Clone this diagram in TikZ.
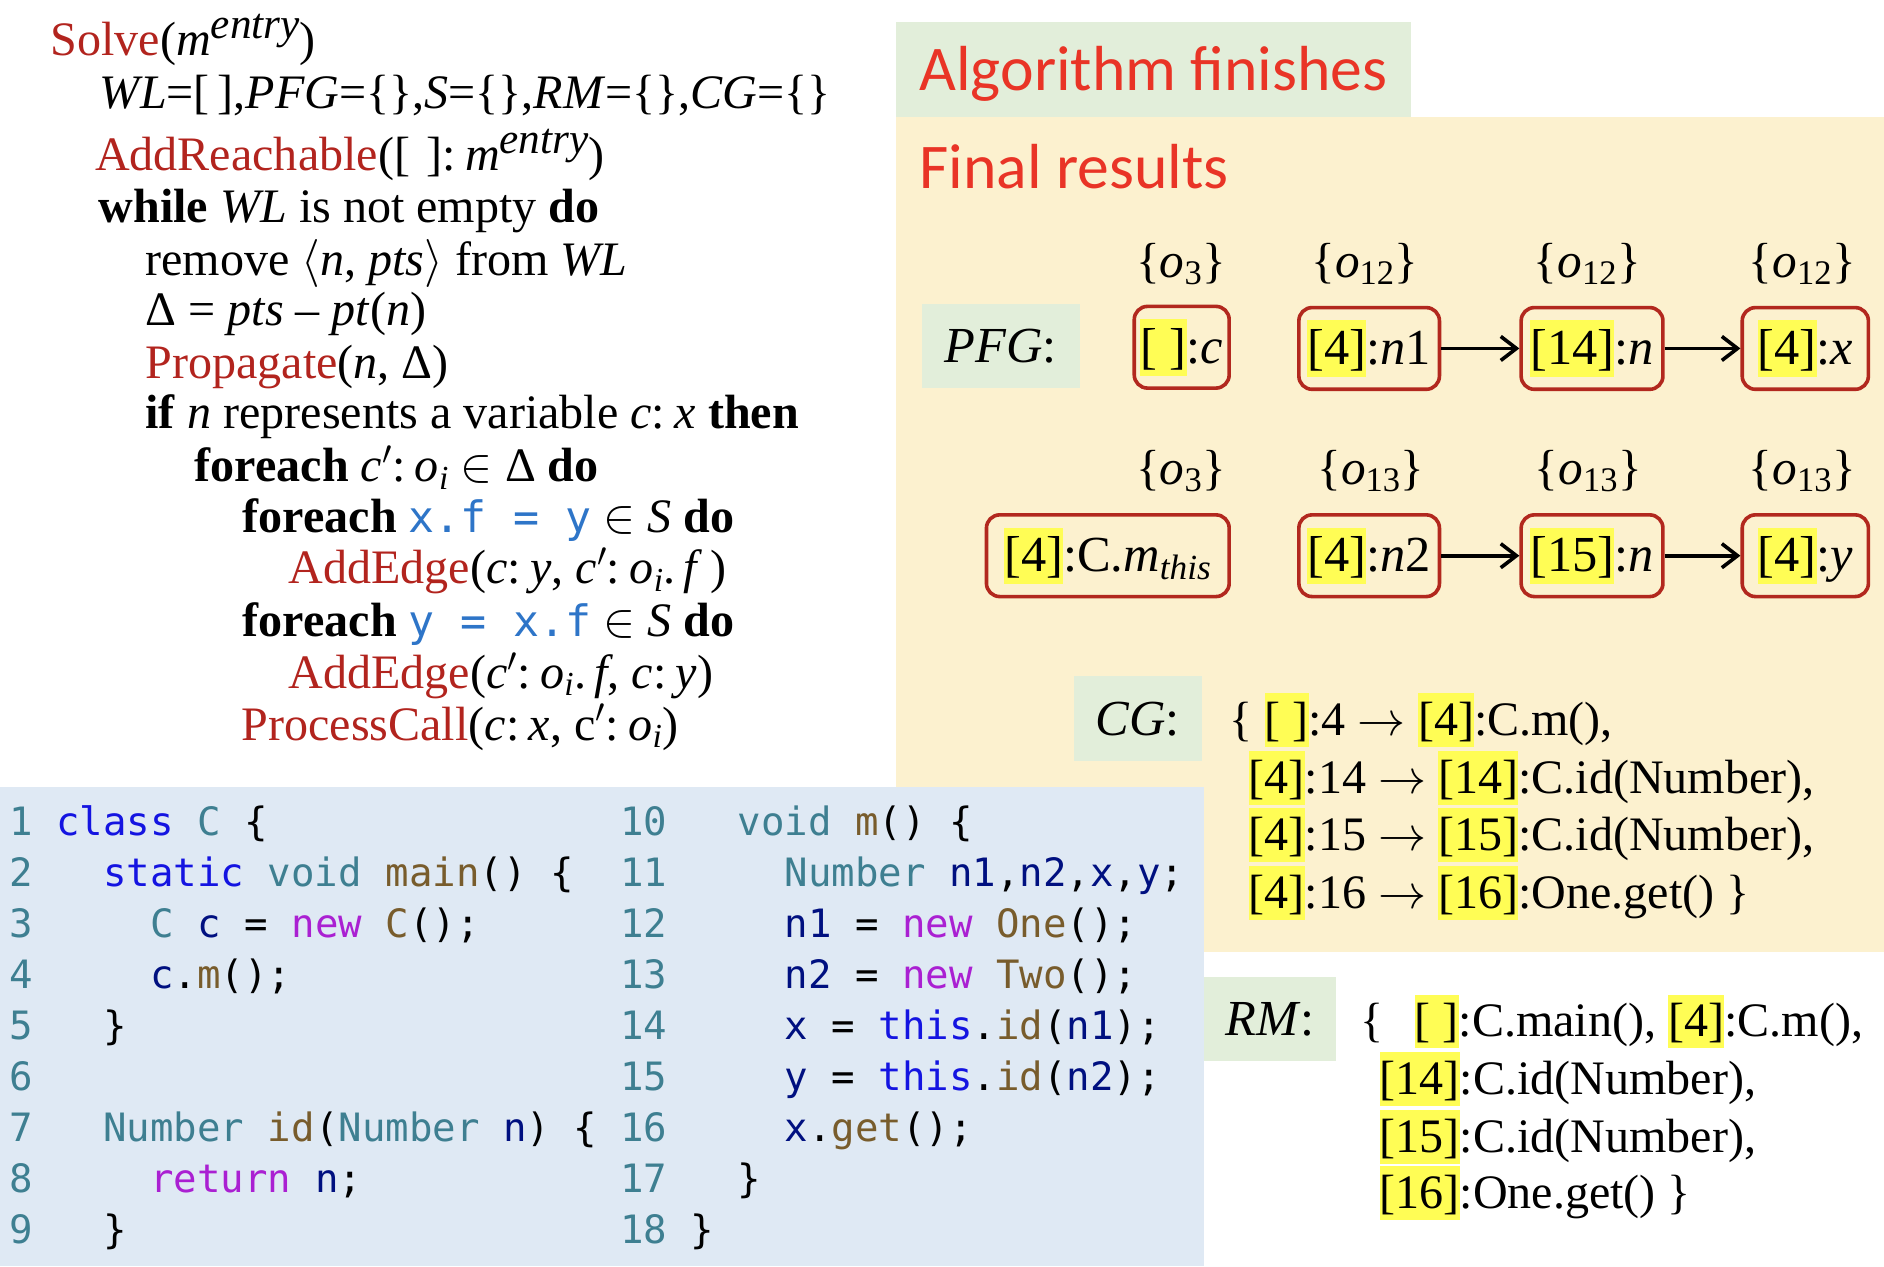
\RequirePackage{fix-cm}
\documentclass[tikz,border=0pt]{standalone}
\usepackage{fontspec}
\setmainfont{Liberation Serif}
\newfontfamily\titlefont{Carlito}
\newfontfamily\codefont{DejaVu Sans Mono}
\usetikzlibrary{arrows.meta}

% palette
\definecolor{beige}{RGB}{252,241,207}
\definecolor{lgreen}{RGB}{226,238,218}
\definecolor{lblue}{RGB}{223,233,244}
\definecolor{titlered}{RGB}{233,52,38}
\definecolor{algred}{RGB}{178,36,30}
\definecolor{codeblue}{RGB}{46,117,200}
\definecolor{boxred}{RGB}{178,40,30}
\definecolor{hly}{RGB}{255,253,85}
\definecolor{kwblue}{RGB}{20,20,225}
\definecolor{tyteal}{RGB}{62,127,145}
\definecolor{fnbrown}{RGB}{120,92,44}
\definecolor{nwpurple}{RGB}{170,32,210}
\definecolor{varnavy}{RGB}{0,16,128}

% highlighted context label
\newcommand\hlb[1]{{\setlength{\fboxsep}{0pt}\colorbox{hly}{\rule[-0.24em]{0pt}{1.12em}#1}}}
% superscript of the entry method
\newcommand\supit[1]{\raisebox{0.36em}{\fontsize{36}{36}\selectfont\textit{#1}}}
% colon between context and variable
\newcommand\cln{:\hspace{0.2em}}
% algorithm keywords and inline code
\newcommand\fnc[1]{\textcolor{algred}{#1}}
\newcommand\icode[1]{{\codefont\fontsize{36}{40}\selectfont\color{codeblue}#1}}
% syntax colours of the listing
\newcommand\cKw[1]{\textcolor{kwblue}{#1}}
\newcommand\cTy[1]{\textcolor{tyteal}{#1}}
\newcommand\cFn[1]{\textcolor{fnbrown}{#1}}
\newcommand\cNw[1]{\textcolor{nwpurple}{#1}}
\newcommand\cVr[1]{\textcolor{varnavy}{#1}}

\tikzset{
  alg/.style={anchor=base west, inner sep=0pt, font=\fontsize{40}{43}\selectfont},
  res/.style={anchor=base west, inner sep=0pt, font=\fontsize{40}{48}\selectfont},
  pfgbox/.style={draw=boxred, line width=3pt, rounded corners=11pt, inner sep=0pt,
    minimum height=68pt, text height=37pt, text depth=10pt,
    font=\fontsize{42}{48}\selectfont},
  ptset/.style={anchor=base, inner sep=0pt, font=\fontsize{41}{48}\selectfont},
  lbl/.style={fill=lgreen, inner sep=0pt, text height=28pt, text depth=0pt,
    font=\fontsize{42}{48}\selectfont},
  codeln/.style={anchor=base west, inner sep=0pt, font=\codefont\fontsize{32.5}{42}\selectfont},
  title/.style={anchor=base west, inner sep=0pt, text=titlered,
    font=\titlefont\fontsize{53}{60}\selectfont},
  flow/.style={line width=3pt, -{Straight Barb[length=13pt,width=20pt]}},
}

\begin{document}
\begin{tikzpicture}[x=1pt,y=-1pt]
\useasboundingbox (0,0) rectangle (1568,1054);

% panels
\fill[beige] (746,97) rectangle (1568,792);
\fill[lgreen] (746,18) rectangle (1174,97);
\fill[lblue] (0,655) rectangle (1002,1054);

% solver algorithm
\node[alg] (a1) at (42,46.6) {\fnc{Solve}(\textit{m}\supit{entry})};
\node[alg] (a2) at (83,90) {\textit{WL}=[\,],\textit{PFG}=\{\},\textit{S}=\{\},\textit{RM}=\{\},\textit{CG}=\{\}};
\node[alg] (a3) at (79,142) {\fnc{AddReachable}([\,\,]\cln\textit{m}\supit{entry})};
\node[alg] (a4) at (82,185.5) {\textbf{while} \textit{WL} is not empty \textbf{do}};
\node[alg] (a5) at (121,229) {remove $\langle$\textit{n}, \textit{pts}$\rangle$ from \textit{WL}};
\node[alg] (a6) at (121,271) {Δ = \textit{pts} – \textit{pt}(\textit{n})};
\node[alg] (a7) at (121,315) {\fnc{Propagate}(\textit{n}, Δ)};
\node[alg] (a8) at (121,357) {\textbf{if} \textit{n} represents a variable \textit{c}\cln\textit{x} \textbf{then}};
\node[alg] (a9) at (162,401) {\textbf{foreach} \textit{c}$'$\cln\textit{o}\textsubscript{\textit{i}} $\in$ Δ \textbf{do}};
\node[alg] (a10) at (202,443.5) {\textbf{foreach} \icode{x.f = y} $\in$ \textit{S} \textbf{do}};
\node[alg] (a11) at (240,486) {\fnc{AddEdge}(\textit{c}\cln\textit{y}, \textit{c}$'$\cln\textit{o}\textsubscript{\textit{i}}.\,\textit{f}\,)};
\node[alg] (a12) at (202,530) {\textbf{foreach} \icode{y = x.f} $\in$ \textit{S} \textbf{do}};
\node[alg] (a13) at (240,573) {\fnc{AddEdge}(\textit{c}$'$\cln\textit{o}\textsubscript{\textit{i}}.\,\textit{f}, \textit{c}\cln\textit{y})};
\node[alg] (a14) at (201,616) {\fnc{ProcessCall}(\textit{c}\cln\textit{x}, c$'$\cln\textit{o}\textsubscript{\textit{i}})};

% headings
\node[title] (t1) at (765,75) {Algorithm finishes};
\node[title] (t2) at (765,157) {Final results};

% pointer flow graph
\node[lbl, minimum width=132pt, minimum height=70pt] (pfg) at (833,288) {\textit{PFG}:};

\node[pfgbox, minimum width=79pt]  (c)   at (983.5,289) {\hlb{[ ]}:\textit{c}};
\node[pfgbox, minimum width=117pt] (n1)  at (1139.5,290) {\hlb{[4]}:\textit{n}1};
\node[pfgbox, minimum width=118pt] (n14) at (1325,290) {\hlb{[14]}:\textit{n}};
\node[pfgbox, minimum width=105pt] (x)   at (1502.5,290) {\hlb{[4]}:\textit{x}};

\node[pfgbox, minimum width=202pt] (ths) at (922,462.5) {\hlb{[4]}:C.\textit{m}\textsubscript{\textit{this}}};
\node[pfgbox, minimum width=117pt] (n2)  at (1139.5,462.5) {\hlb{[4]}:\textit{n}2};
\node[pfgbox, minimum width=118pt] (n15) at (1325,462.5) {\hlb{[15]}:\textit{n}};
\node[pfgbox, minimum width=105pt] (y)   at (1502.5,462.5) {\hlb{[4]}:\textit{y}};

\draw[flow] (n1) -- (n14);
\draw[flow] (n14) -- (x);
\draw[flow] (n2) -- (n15);
\draw[flow] (n15) -- (y);

% points-to sets
\node[ptset] (sc)   at (983,231) {\{\textit{o}\textsubscript{3}\}};
\node[ptset] (sn1)  at (1136,231) {\{\textit{o}\textsubscript{12}\}};
\node[ptset] (sn14) at (1321,231) {\{\textit{o}\textsubscript{12}\}};
\node[ptset] (sx)   at (1500,231) {\{\textit{o}\textsubscript{12}\}};
\node[ptset] (sths) at (983,403) {\{\textit{o}\textsubscript{3}\}};
\node[ptset] (sn2)  at (1141,403) {\{\textit{o}\textsubscript{13}\}};
\node[ptset] (sn15) at (1322,403) {\{\textit{o}\textsubscript{13}\}};
\node[ptset] (sy)   at (1500,403) {\{\textit{o}\textsubscript{13}\}};

% call graph
\node[lbl, minimum width=106pt, minimum height=70pt] (cg) at (947,598) {\textit{CG}:};
\node[res] (cg1) at (1023,612) {\{ \hlb{[ ]}:4 $\rightarrow$ \hlb{[4]}:C.m(),};
\node[res] (cg2) at (1039,660) {\hlb{[4]}:14 $\rightarrow$ \hlb{[14]}:C.id(Number),};
\node[res] (cg3) at (1039,708) {\hlb{[4]}:15 $\rightarrow$ \hlb{[15]}:C.id(Number),};
\node[res] (cg4) at (1039,756) {\hlb{[4]}:16 $\rightarrow$ \hlb{[16]}:One.get() \}};

% reachable methods
\node[lbl, minimum width=110pt, minimum height=70pt] (rm) at (1057,848) {\textit{RM}:};
\node[res] (rm1) at (1132,863) {\{\hspace{26pt}\hlb{[ ]}:C.main(), \hlb{[4]}:C.m(),};
\node[res] (rm2) at (1148,911) {\hlb{[14]}:C.id(Number),};
\node[res] (rm3) at (1148,959) {\hlb{[15]}:C.id(Number),};
\node[res] (rm4) at (1148,1006) {\hlb{[16]}:One.get() \}};

% program listing, left column
\node[codeln] (l1) at (7.6,695) {\cTy{1}~\cKw{class}~\cTy{C}~\{};
\node[codeln] (l2) at (7.6,737.45) {\cTy{2}~~~\cKw{static}~\cTy{void}~\cFn{main}()~\{};
\node[codeln] (l3) at (7.6,779.9) {\cTy{3}~~~~~\cTy{C}~\cVr{c}~=~\cNw{new}~\cFn{C}();};
\node[codeln] (l4) at (7.6,822.35) {\cTy{4}~~~~~\cVr{c}.\cFn{m}();};
\node[codeln] (l5) at (7.6,864.8) {\cTy{5}~~~\}};
\node[codeln] (l6) at (7.6,907.25) {\cTy{6}};
\node[codeln] (l7) at (7.6,949.7) {\cTy{7}~~~\cTy{Number}~\cFn{id}(\cTy{Number}~\cVr{n})~\{};
\node[codeln] (l8) at (7.6,992.15) {\cTy{8}~~~~~\cNw{return}~\cVr{n};};
\node[codeln] (l9) at (7.6,1034.6) {\cTy{9}~~~\}};

% program listing, right column
\node[codeln] (l10) at (516,695) {\cTy{10}~~~\cTy{void}~\cFn{m}()~\{};
\node[codeln] (l11) at (516,737.45) {\cTy{11}~~~~~\cTy{Number}~\cVr{n1},\cVr{n2},\cVr{x},\cVr{y};};
\node[codeln] (l12) at (516,779.9) {\cTy{12}~~~~~\cVr{n1}~=~\cNw{new}~\cFn{One}();};
\node[codeln] (l13) at (516,822.35) {\cTy{13}~~~~~\cVr{n2}~=~\cNw{new}~\cFn{Two}();};
\node[codeln] (l14) at (516,864.8) {\cTy{14}~~~~~\cVr{x}~=~\cKw{this}.\cFn{id}(\cVr{n1});};
\node[codeln] (l15) at (516,907.25) {\cTy{15}~~~~~\cVr{y}~=~\cKw{this}.\cFn{id}(\cVr{n2});};
\node[codeln] (l16) at (516,949.7) {\cTy{16}~~~~~\cVr{x}.\cFn{get}();};
\node[codeln] (l17) at (516,992.15) {\cTy{17}~~~\}};
\node[codeln] (l18) at (516,1034.6) {\cTy{18}~\}};
\end{tikzpicture}
\end{document}
